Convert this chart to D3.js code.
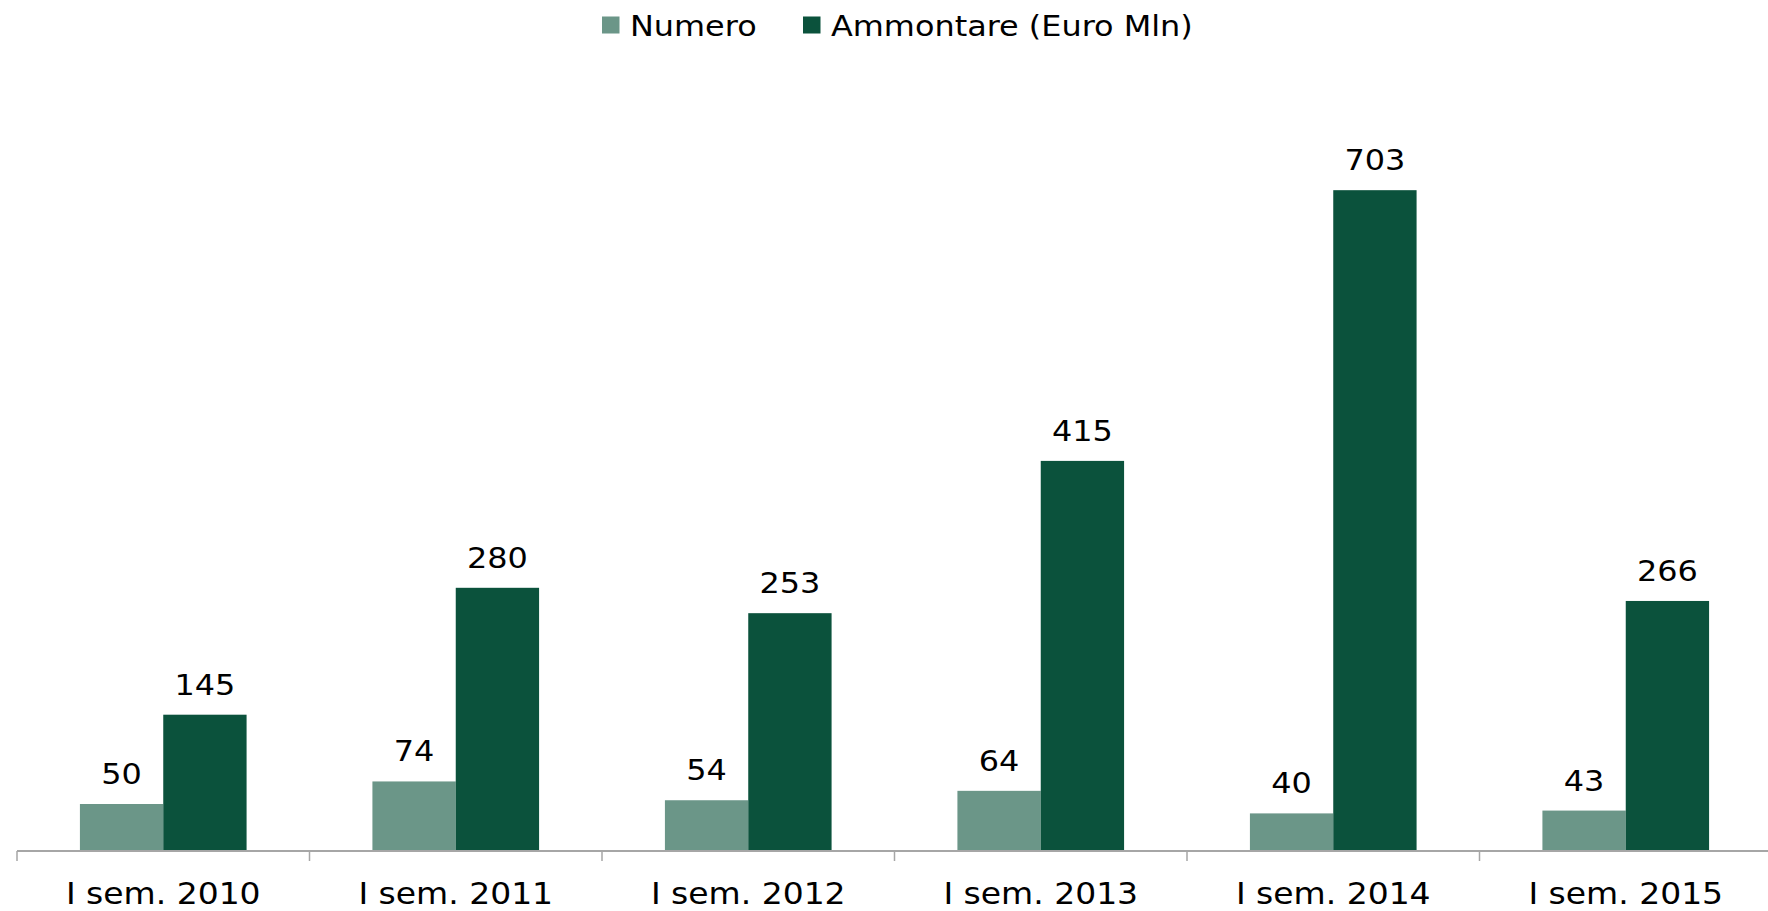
<!DOCTYPE html>
<html>
<head>
<meta charset="utf-8">
<script src="https://cdn.jsdelivr.net/npm/d3@7"></script>
<style>
  html, body { margin: 0; padding: 0; background: #fff; }
  svg { display: block; font-family: "DejaVu Sans", Verdana, sans-serif; }
</style>
</head>
<body>
<script>
const categories = ['I sem. 2010', 'I sem. 2011', 'I sem. 2012', 'I sem. 2013', 'I sem. 2014', 'I sem. 2015'];
const seriesNames = ['Numero', 'Ammontare (Euro Mln)'];
const numero = [50, 74, 54, 64, 40, 43];
const ammontare = [145, 280, 253, 415, 703, 266];
const colors = ['#6b9688', '#0b523c'];

const width = 1768, height = 911;
const stretch = 1.1; // the source fonts are wider than DejaVu

const data = categories.map((c, i) => ({cat: c, values: [numero[i], ammontare[i]]}));

const svg = d3.select('body')
  .append('svg')
  .attr('width', width)
  .attr('height', height);

const x0 = d3.scaleBand()
  .domain(categories)
  .range([17, 17 + 6 * 292.5]);

const x1 = d3.scaleBand()
  .domain([0, 1])
  .range([0, x0.bandwidth()])
  .paddingOuter(0.755);

const y = d3.scaleLinear()
  .domain([0, 800])
  .range([851, 99]);

// bars
const groups = svg.selectAll('g.cat')
  .data(data)
  .enter()
    .append('g')
    .attr('class', 'cat')
    .attr('transform', d => `translate(${x0(d.cat)},0)`);

groups.selectAll('rect')
  .data(d => d.values)
  .enter()
    .append('rect')
    .attr('x', (d, i) => x1(i))
    .attr('y', d => y(d))
    .attr('width', x1.bandwidth())
    .attr('height', d => y(0) - y(d))
    .attr('fill', (d, i) => colors[i]);

// value labels
groups.selectAll('text.val')
  .data(d => d.values)
  .enter()
    .append('text')
    .attr('class', 'val')
    .attr('transform', (d, i) => `translate(${x1(i) + x1.bandwidth() / 2},${y(d) - 20}) scale(${stretch},1)`)
    .attr('text-anchor', 'middle')
    .style('font-size', '29px')
    .style('fill', '#000')
    .text(d => d);

// x axis: labels via d3 axis, line + boundary ticks drawn alongside
const xAxis = d3.axisBottom(x0).tickSize(0).tickPadding(0);
const axisG = svg.append('g')
  .attr('transform', `translate(0,${y(0)})`)
  .call(xAxis);
axisG.select('.domain').remove();
axisG.selectAll('text')
  .attr('y', 53)
  .attr('dy', null)
  .attr('transform', `scale(${stretch},1)`)
  .style('font-size', '30px')
  .style('font-family', '"DejaVu Sans", Verdana, sans-serif')
  .style('fill', '#000');

svg.append('line')
  .attr('x1', x0.range()[0]).attr('x2', x0.range()[1])
  .attr('y1', y(0)).attr('y2', y(0))
  .attr('stroke', '#a6a6a6')
  .attr('stroke-width', 2);

svg.selectAll('line.bound')
  .data(d3.range(categories.length + 1))
  .enter()
    .append('line')
    .attr('class', 'bound')
    .attr('x1', i => x0.range()[0] + i * x0.step())
    .attr('x2', i => x0.range()[0] + i * x0.step())
    .attr('y1', y(0))
    .attr('y2', y(0) + 10)
    .attr('stroke', '#a6a6a6')
    .attr('stroke-width', 1.5);

// legend
const legendX = [602, 803];
const legend = svg.selectAll('g.legend')
  .data(seriesNames)
  .enter()
    .append('g')
    .attr('class', 'legend')
    .attr('transform', (d, i) => `translate(${legendX[i]},0)`);

legend.append('rect')
  .attr('x', 0)
  .attr('y', 16.5)
  .attr('width', 17.5)
  .attr('height', 17)
  .attr('fill', (d, i) => colors[i]);

legend.append('text')
  .attr('transform', `translate(28,36) scale(${stretch},1)`)
  .style('font-size', '29px')
  .style('fill', '#000')
  .text(d => d);
</script>
</body>
</html>
